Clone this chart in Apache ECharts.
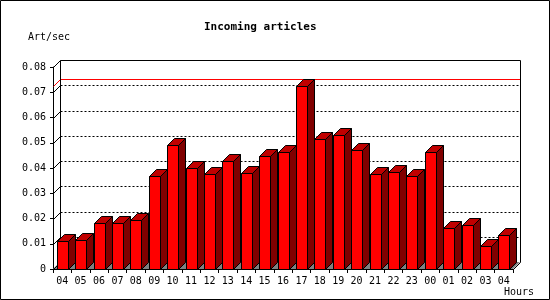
<!DOCTYPE html>
<html>
<head>
<meta charset="utf-8">
<script src="https://cdn.jsdelivr.net/npm/echarts@6/dist/echarts.min.js"></script>
<style>
html,body{margin:0;padding:0;background:#fff;}
#c{width:550px;height:300px;}
</style>
</head>
<body>
<div id="c"></div>
<script>
const hours = ['04','05','06','07','08','09','10','11','12','13','14','15','16','17','18','19','20','21','22','23','00','01','02','03','04'];
const artPerSec = [0.0109,0.0113,0.0181,0.0181,0.0196,0.0370,0.0493,0.0401,0.0378,0.0426,0.0381,0.0449,0.0465,0.0725,0.0516,0.0532,0.0473,0.0378,0.0386,0.0370,0.0465,0.0162,0.0173,0.0091,0.0134];
const yMin = 0, yMax = 0.08, yStep = 0.01;
const titleText = 'Incoming articles';
const yName = 'Art/sec';
const xName = 'Hours';

const D = 7; // 3D depth offset
const FONT = 'DejaVu Sans Mono';
const maxVal = Math.max.apply(null, artPerSec);

function px(v){ return Math.round(v) + 0.5; }
function line(x1,y1,x2,y2,stroke,dash){
  return {type:'line', shape:{x1:px(x1),y1:px(y1),x2:px(x2),y2:px(y2)},
    style:{stroke:stroke||'#000', lineWidth:1, lineDash:dash||null}};
}

function renderBack(params, api){
  const cs = params.coordSys;
  const x0 = cs.x, x1 = cs.x + cs.width;
  const yB = api.coord([0, yMin])[1];
  const yT = api.coord([0, yMax])[1];
  const ch = [];
  ch.push({type:'polygon', shape:{points:[[x0,yB],[x1,yB],[x1+D,yB-D],[x0+D,yB-D]]}, style:{fill:'#808080'}});
  const n = Math.round((yMax - yMin)/yStep);
  for (let i = 0; i <= n; i++){
    const v = yMin + i*yStep;
    const y = api.coord([0, v])[1];
    if (i > 0 && i < n) ch.push(line(x0+D, y-D, x1+D, y-D, '#000', [2,2]));
    ch.push(line(x0, y, x0+D, y-D, '#000'));
  }
  const ym = api.coord([0, maxVal])[1];
  ch.push(line(x0+D, ym-D, x1+D, ym-D, '#ff0000'));
  ch.push(line(x0, ym, x0+D, ym-D, '#ff0000'));
  ch.push(line(x0+D, yT-D, x1+D, yT-D));
  ch.push(line(x0+D, yT-D, x0+D, yB-D));
  ch.push(line(x1+D, yT-D, x1+D, yB-D));
  ch.push(line(x1, yB, x1+D, yB-D));
  return {type:'group', children:ch};
}

function renderBar(params, api){
  const i = api.value(0), v = api.value(1);
  const top = api.coord([i, v]);
  const bot = api.coord([i, 0]);
  const band = api.size([1, 0])[0];
  const w = Math.round(band * 0.6);
  const xl = Math.round(top[0] - w/2) + 0.5;
  const xr = xl + w;
  const yt = Math.round(top[1]) + 0.5;
  const yb = Math.round(bot[1]) + 0.5;
  const st = {stroke:'#000', lineWidth:1};
  return {type:'group', children:[
    {type:'polygon', shape:{points:[[xr,yt],[xr+D,yt-D],[xr+D,yb-D],[xr,yb]]}, style:Object.assign({fill:'#800000'}, st)},
    {type:'polygon', shape:{points:[[xl,yt],[xr,yt],[xr+D,yt-D],[xl+D,yt-D]]}, style:Object.assign({fill:'#c00000'}, st)},
    {type:'rect', shape:{x:xl, y:yt, width:w, height:yb-yt}, style:Object.assign({fill:'#ff0000'}, st)}
  ]};
}

const chart = echarts.init(document.getElementById('c'), null, {renderer:'canvas'});
chart.setOption({
  backgroundColor:'#fff',
  animation:false,
  title:{text:titleText, left:204, top:22, itemGap:0, padding:0,
    textStyle:{fontFamily:FONT, fontSize:11, fontWeight:'bold', color:'#000'}},
  graphic:[
    {type:'rect', shape:{x:0.5,y:0.5,width:549,height:299}, style:{fill:null, stroke:'#000', lineWidth:1}, z:100},
    {type:'text', left:28, top:32, style:{text:yName, font:'10px "DejaVu Sans Mono"', fill:'#000'}},
    {type:'text', left:504, top:287, style:{text:xName, font:'10px "DejaVu Sans Mono"', fill:'#000'}}
  ],
  grid:{left:53, right:37, top:67, bottom:31, containLabel:false},
  xAxis:{type:'category', data:hours, boundaryGap:true,
    axisLine:{show:true, lineStyle:{color:'#000', width:1}},
    axisTick:{show:true, interval:0, length:4, lineStyle:{color:'#000'}},
    axisLabel:{interval:0, margin:7, fontFamily:FONT, fontSize:10, color:'#000'},
    splitLine:{show:false}},
  yAxis:{type:'value', min:yMin, max:yMax, interval:yStep,
    axisLine:{show:true, lineStyle:{color:'#000', width:1}},
    axisTick:{show:true, length:3, lineStyle:{color:'#000'}},
    axisLabel:{margin:7, fontFamily:FONT, fontSize:10, color:'#000',
      formatter:function(v){ return v === 0 ? '0' : v.toFixed(2); }},
    splitLine:{show:false}},
  series:[
    {type:'custom', renderItem:renderBack, data:[[0,0]], clip:false, z:1, silent:true},
    {type:'custom', renderItem:renderBar, data:artPerSec.map(function(v,i){return [i,v];}), clip:false, z:2,
      encode:{x:0, y:1}}
  ]
});
</script>
</body>
</html>
